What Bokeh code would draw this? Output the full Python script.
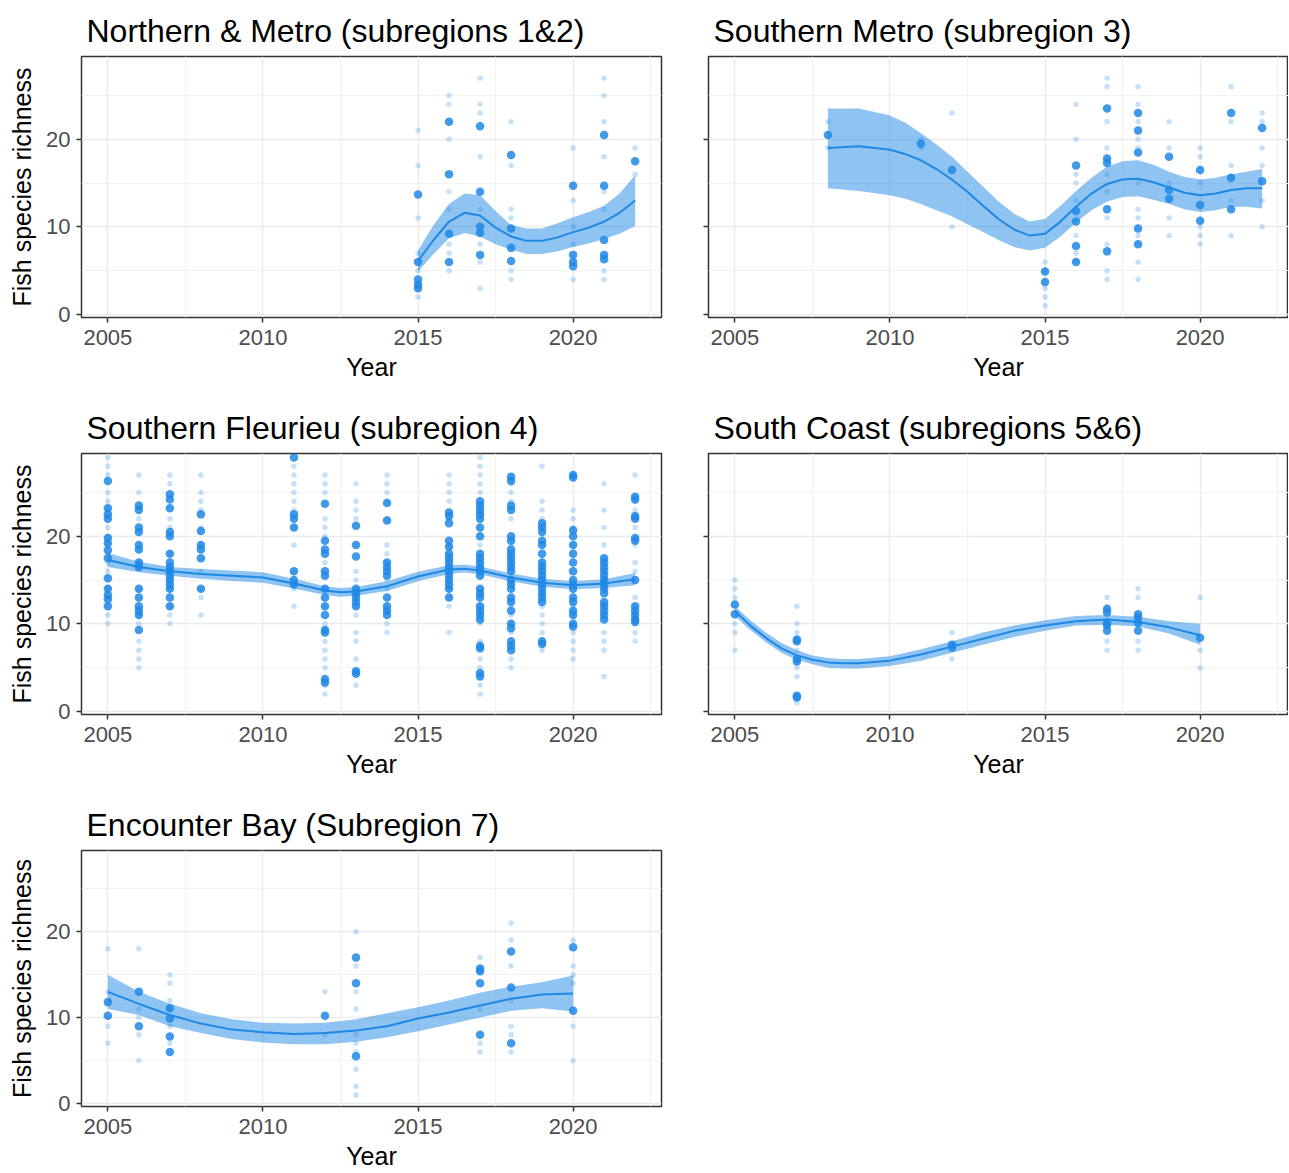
from bokeh.plotting import figure
from bokeh.layouts import column, row
from bokeh.models import FixedTicker, Range1d
from bokeh.embed import file_html
from bokeh.resources import INLINE

# ---------------- data ----------------
TITLES = ["Northern & Metro (subregions 1&2)", "Southern Metro (subregion 3)",
          "Southern Fleurieu (subregion 4)", "South Coast (subregions 5&6)",
          "Encounter Bay (Subregion 7)"]
X_TICKS = [2005, 2010, 2015, 2020]
Y_TICKS = [0, 10, 20]

# Panel 1: Northern & Metro
P1_YEARS = [2015, 2016, 2017, 2018, 2020, 2021, 2022]
P1_LIGHT = [[21, 17, 11, 7, 5, 2], [25, 24, 20, 14, 12, 8, 7, 5],
            [27, 24, 23, 18, 12, 8, 6, 3], [22, 17, 12, 11, 5, 4],
            [19, 13, 10, 8, 4], [27, 25, 22, 18, 14, 12, 5, 4], [19, 16]]
P1_DARK = [[13.7, 6.0, 4.0, 3.4, 3.0], [22.0, 16.0, 9.2, 6.0],
           [21.5, 14.0, 10.0, 9.3, 6.8], [18.2, 9.8, 7.6, 6.1],
           [14.7, 6.8, 6.0, 5.5], [20.5, 14.7, 8.5, 6.8, 6.3], [17.5]]
P1_FIT_X = [2015, 2015.5, 2016, 2016.5, 2017, 2017.5, 2018, 2018.5, 2019, 2019.5,
            2020, 2020.5, 2021, 2021.5, 2022]
P1_FIT = [6.1, 8.5, 10.6, 11.6, 11.3, 9.9, 8.9, 8.4, 8.4, 8.8, 9.4, 9.9, 10.6, 11.6, 13.0]
P1_HI = [7.3, 10.2, 12.6, 13.8, 13.6, 11.8, 10.2, 9.8, 9.8, 10.4, 11.1, 11.7, 12.4, 13.8, 15.9]
P1_LO = [4.9, 6.9, 8.7, 9.3, 8.9, 8.0, 7.4, 6.9, 6.9, 7.2, 7.7, 8.1, 8.6, 9.2, 10.1]

# Panel 2: Southern Metro
P2_YEARS = [2008, 2011, 2012, 2015, 2016, 2017, 2018, 2019, 2020, 2021, 2022]
P2_LIGHT = [[22, 19], [19, 20], [23, 10], [6, 5, 3, 2, 1],
            [24, 20, 16, 15, 13, 9, 7, 6], [27, 26, 22, 19, 16, 14, 11, 8, 5, 4],
            [26, 24, 22, 20, 19, 15, 12, 11, 9, 6, 4], [22, 19, 15, 11, 9],
            [19, 18, 15, 10, 9, 8], [26, 22, 17, 13, 9], [23, 22, 19, 17, 13, 10]]
P2_DARK = [[20.5], [19.5], [16.5], [4.9, 3.7], [17.0, 11.8, 10.6, 7.8, 6.0],
           [23.5, 17.8, 17.3, 12.0, 7.2], [23.0, 21.0, 18.5, 9.8, 8.0],
           [18.0, 14.2, 13.2], [16.5, 12.5, 10.7], [23.0, 15.6, 12.0], [21.3, 15.2]]
P2_FIT_X = [2008, 2009, 2010, 2010.5, 2011, 2011.5, 2012, 2012.5, 2013, 2013.5, 2014,
            2014.5, 2015, 2015.5, 2016, 2016.5, 2017, 2017.5, 2018, 2018.5, 2019,
            2019.5, 2020, 2020.5, 2021, 2021.5, 2022]
P2_FIT = [19.0, 19.2, 18.8, 18.3, 17.6, 16.6, 15.4, 14.0, 12.4, 10.9, 9.7, 9.0, 9.2,
          10.6, 12.3, 13.8, 14.9, 15.4, 15.5, 15.1, 14.5, 13.9, 13.6, 13.8, 14.2,
          14.4, 14.4]
P2_HI = [23.5, 23.5, 22.7, 21.9, 20.7, 19.4, 18.0, 16.3, 14.6, 12.9, 11.5, 10.6, 10.9,
         12.4, 14.1, 15.6, 16.9, 17.5, 17.6, 17.1, 16.3, 15.7, 15.4, 15.6, 16.0,
         16.3, 16.6]
P2_LO = [14.4, 14.1, 13.6, 13.2, 12.6, 11.9, 11.2, 10.3, 9.4, 8.5, 7.7, 7.3, 7.6,
         8.9, 10.5, 11.9, 12.9, 13.4, 13.5, 13.1, 12.6, 12.0, 11.7, 11.9, 12.3,
         12.3, 12.1]

# Panel 3: Southern Fleurieu
P3_YEARS = [2005, 2006, 2007, 2008, 2011, 2012, 2013, 2014, 2016, 2017, 2018, 2019,
            2020, 2021, 2022]
P3_LIGHT = [[10, 11, 12, 13, 14, 16, 17, 18, 19, 20, 21, 23, 24, 25, 27, 28, 29],
            [5, 6, 7, 8, 10, 11, 14, 17, 22, 25, 27],
            [10, 11, 12, 14, 16, 18, 21, 22, 26, 27],
            [11, 13, 14, 16, 21, 23, 24, 25, 27],
            [12, 14, 16, 19, 21, 23, 24, 25, 26, 27, 28],
            [2, 3, 5, 6, 7, 8, 10, 12, 14, 17, 20, 21, 22, 25, 26, 27],
            [3, 6, 8, 9, 11, 14, 15, 16, 22, 23, 24, 26],
            [9, 10, 14, 15, 17, 18, 19, 22, 24, 25, 26, 27],
            [9, 12, 13, 14, 19, 22, 24, 25, 26, 27],
            [2, 3, 5, 6, 8, 10, 12, 19, 25, 26, 27, 28, 29],
            [5, 6, 9, 10, 11, 12, 19, 22, 24, 25, 26],
            [7, 9, 10, 11, 12, 22, 23, 24, 28],
            [6, 7, 8, 9, 11, 12, 21, 22, 23, 27],
            [4, 7, 8, 9, 12, 19, 21, 23, 26],
            [8, 9, 10, 12, 13, 16, 17, 19, 21, 23, 24, 27]]
P3_DARK = [[26.3, 23.2, 22.5, 22.0, 19.8, 19.2, 18.4, 17.5, 15.2, 14.0, 13.3, 12.8, 12.0],
           [23.5, 23.0, 21.0, 20.5, 19.0, 18.5, 17.0, 16.5, 14.0, 13.0, 12.0, 11.5, 11.0, 9.3],
           [24.8, 24.2, 23.2, 20.5, 20.0, 18.0, 17.0, 16.5, 16.0, 15.5, 15.0, 14.5, 14.0, 13.0, 12.0],
           [22.5, 20.6, 19.0, 18.5, 17.5, 14.0],
           [29.0, 22.5, 22.0, 21.0, 16.0, 15.0, 14.5],
           [23.7, 19.5, 18.5, 18.0, 16.0, 15.5, 14.0, 13.0, 12.0, 11.0, 9.3, 9.0, 3.7, 3.3],
           [21.2, 19.0, 17.7, 14.0, 13.5, 13.0, 12.5, 12.0, 4.6, 4.3],
           [23.8, 21.8, 17.0, 16.5, 16.0, 15.5, 13.0, 12.0, 11.5, 11.0],
           [22.7, 22.3, 21.5, 19.5, 18.8, 18.0, 17.5, 17.0, 16.5, 16.0, 15.5, 15.0, 14.5, 14.0, 13.0],
           [24.0, 23.5, 23.0, 22.5, 22.0, 21.0, 20.0, 18.0, 17.5, 17.0, 16.5, 16.0, 15.5, 14.0,
            13.5, 13.0, 12.0, 11.5, 11.0, 10.5, 7.5, 7.2, 4.4, 4.0],
           [26.8, 26.3, 23.5, 23.0, 20.0, 19.5, 18.5, 18.0, 17.5, 17.0, 16.5, 16.0, 15.0, 14.5,
            14.0, 13.0, 12.5, 11.5, 10.0, 9.5, 8.0, 7.5, 7.0],
           [21.5, 21.0, 20.5, 19.5, 19.0, 18.0, 17.0, 16.5, 16.0, 15.5, 15.0, 14.5, 14.0, 13.5,
            13.0, 12.5, 8.0, 7.7],
           [27.0, 26.7, 20.7, 20.0, 19.0, 18.0, 17.0, 16.0, 15.0, 14.5, 14.0, 13.0, 12.5, 11.5,
            11.0, 10.0, 9.7],
           [17.5, 17.0, 16.5, 16.0, 15.5, 15.0, 14.5, 14.0, 13.5, 12.5, 12.0, 11.5, 11.0, 10.5],
           [24.5, 24.2, 22.3, 22.0, 19.8, 19.5, 15.0, 12.0, 11.5, 11.0, 10.5, 10.2]]
P3_FIT_X = [2005, 2006, 2007, 2008, 2009, 2010, 2011, 2012, 2012.5, 2013, 2014, 2015,
            2016, 2016.5, 2017, 2018, 2019, 2020, 2021, 2022]
P3_FIT = [17.3, 16.5, 16.0, 15.7, 15.5, 15.3, 14.6, 13.8, 13.6, 13.7, 14.3, 15.4,
          16.2, 16.3, 16.1, 15.3, 14.7, 14.4, 14.6, 15.1]
P3_HI = [18.1, 17.1, 16.5, 16.25, 16.1, 15.9, 15.15, 14.3, 14.1, 14.2, 14.85, 15.95,
         16.7, 16.75, 16.55, 15.75, 15.15, 14.85, 15.1, 15.8]
P3_LO = [16.5, 15.9, 15.5, 15.15, 14.9, 14.7, 14.05, 13.3, 13.1, 13.2, 13.75, 14.85,
         15.7, 15.85, 15.65, 14.85, 14.25, 13.95, 14.1, 14.4]

# Panel 4: South Coast
P4_YEARS = [2005, 2007, 2012, 2017, 2018, 2020]
P4_LIGHT = [[15, 14, 13, 10, 9, 7], [12, 10, 9, 7, 5, 4, 1], [9, 6],
            [13, 12, 8, 7], [14, 13, 8, 7], [13, 7, 5]]
P4_DARK = [[12.2, 11.1], [8.2, 8.0, 6.0, 5.7, 1.8, 1.6], [7.6, 7.3],
           [11.7, 11.3, 10.1, 9.8, 9.2], [11.1, 10.7, 10.1, 9.2], [8.4]]
P4_FIT_X = [2005, 2005.5, 2006, 2006.5, 2007, 2007.5, 2008, 2008.5, 2009, 2010, 2011,
            2012, 2013, 2014, 2015, 2016, 2017, 2018, 2019, 2020]
P4_FIT = [11.5, 9.8, 8.4, 7.2, 6.4, 5.9, 5.6, 5.5, 5.5, 5.8, 6.5, 7.4, 8.3, 9.2, 9.8,
          10.3, 10.5, 10.2, 9.6, 8.7]
P4_HI = [12.0, 10.4, 9.0, 7.8, 7.0, 6.4, 6.1, 6.0, 6.0, 6.3, 7.1, 8.0, 9.0, 9.8, 10.4,
         10.9, 11.0, 10.8, 10.3, 10.0]
P4_LO = [10.9, 9.3, 7.9, 6.7, 5.9, 5.4, 5.0, 4.9, 4.9, 5.2, 5.8, 6.7, 7.6, 8.5, 9.2,
         9.8, 9.9, 9.7, 8.9, 7.6]

# Panel 5: Encounter Bay
P5_YEARS = [2005, 2006, 2007, 2012, 2013, 2017, 2018, 2020]
P5_LIGHT = [[18, 13, 9, 7], [18, 11, 10, 8, 5], [15, 14, 12, 11, 9, 7], [13, 8],
            [20, 16, 13, 11, 8, 7, 6, 4, 2, 1], [17, 11, 7, 6],
            [21, 19, 16, 12, 9, 8, 6], [19, 16, 15, 14, 9, 5]]
P5_DARK = [[11.8, 10.2], [13.0, 9.0], [11.1, 9.9, 7.8, 6.0], [10.2],
           [17.0, 14.0, 5.5], [15.7, 15.4, 14.0, 8.0], [17.7, 13.5, 7.0], [18.2, 10.8]]
P5_FIT_X = [2005, 2006, 2007, 2008, 2009, 2010, 2011, 2012, 2013, 2014, 2015, 2016,
            2017, 2018, 2019, 2020]
P5_FIT = [13.0, 11.6, 10.3, 9.3, 8.6, 8.3, 8.1, 8.2, 8.5, 9.0, 9.9, 10.6, 11.4, 12.2,
          12.7, 12.8]
P5_HI = [15.0, 13.0, 11.6, 10.5, 9.8, 9.4, 9.3, 9.4, 9.8, 10.5, 11.2, 12.0, 12.9, 13.6,
         14.1, 14.9]
P5_LO = [11.0, 10.3, 9.0, 8.2, 7.5, 7.1, 6.9, 6.9, 7.2, 7.7, 8.4, 9.2, 10.0, 10.8,
         11.1, 10.7]

# ---------------- styling ----------------
BLUE = "#1E88E5"
FONT = "Liberation Sans"
X_MINOR = [2002.5, 2007.5, 2012.5, 2017.5, 2022.5]
Y_MINOR = [5, 15, 25]


def flatten(years, groups):
    xs, ys = [], []
    for yr, vals in zip(years, groups):
        for v in vals:
            xs.append(yr)
            ys.append(v)
    return xs, ys


def panel(title, years, light, dark, fx, fy, flo, fhi, left_col, height, bottom):
    if left_col:
        width, lb, rb = 681, 81, 20
    else:
        width, lb, rb = 607, 27, 0
    p = figure(width=width, height=height, output_backend="svg", toolbar_location=None,
               x_range=Range1d(2004.15, 2022.85), y_range=Range1d(-0.35, 29.45),
               min_border_left=lb, min_border_right=rb, min_border_top=56,
               min_border_bottom=bottom, background_fill_color="white",
               border_fill_color="white")
    p.title.text = title
    p.title.text_font = FONT
    p.title.text_font_size = "32px"
    p.title.text_font_style = "normal"
    p.title.text_color = "black"
    p.title.offset = 5
    p.title.standoff = 16

    p.outline_line_color = "#333333"
    p.outline_line_width = 1.5

    p.xaxis.ticker = FixedTicker(ticks=X_TICKS, minor_ticks=X_MINOR)
    p.yaxis.ticker = FixedTicker(ticks=Y_TICKS, minor_ticks=Y_MINOR)
    for ax in (p.xaxis, p.yaxis):
        ax.axis_line_color = None
        ax.major_tick_line_color = "#333333"
        ax.major_tick_line_width = 1.5
        ax.major_tick_out = 5
        ax.major_tick_in = 0
        ax.minor_tick_out = 0
        ax.minor_tick_in = 0
        ax.major_label_text_font = FONT
        ax.major_label_text_font_size = "22px"
        ax.major_label_text_color = "#4D4D4D"
        ax.axis_label_text_font = FONT
        ax.axis_label_text_font_size = "25px"
        ax.axis_label_text_font_style = "normal"
        ax.axis_label_text_color = "black"
    p.xaxis.major_label_standoff = 7
    p.xaxis.axis_label = "Year"
    p.xaxis.axis_label_standoff = 5
    p.yaxis.major_label_standoff = 6
    if left_col:
        p.yaxis.axis_label = "Fish species richness"
        p.yaxis.axis_label_standoff = 7
    else:
        p.yaxis.major_label_overrides = {0: "", 10: "", 20: ""}

    for g in (p.xgrid, p.ygrid):
        g.grid_line_color = "#EBEBEB"
        g.grid_line_width = 1.5
        g.minor_grid_line_color = "#F2F2F2"
        g.minor_grid_line_width = 1.2

    lx, ly = flatten(years, light)
    dx, dy = flatten(years, dark)
    p.scatter(lx, ly, size=5.5, color=BLUE, alpha=0.25, line_color=None)
    p.scatter(dx, dy, size=8.5, color=BLUE, alpha=0.85, line_color=None)
    p.varea(x=fx, y1=flo, y2=fhi, fill_color=BLUE, fill_alpha=0.5)
    p.line(fx, fy, line_color=BLUE, line_width=2)
    return p


p1 = panel(TITLES[0], P1_YEARS, P1_LIGHT, P1_DARK, P1_FIT_X, P1_FIT, P1_LO, P1_HI, True, 397, 80)
p2 = panel(TITLES[1], P2_YEARS, P2_LIGHT, P2_DARK, P2_FIT_X, P2_FIT, P2_LO, P2_HI, False, 397, 80)
p3 = panel(TITLES[2], P3_YEARS, P3_LIGHT, P3_DARK, P3_FIT_X, P3_FIT, P3_LO, P3_HI, True, 397, 80)
p4 = panel(TITLES[3], P4_YEARS, P4_LIGHT, P4_DARK, P4_FIT_X, P4_FIT, P4_LO, P4_HI, False, 397, 80)
p5 = panel(TITLES[4], P5_YEARS, P5_LIGHT, P5_DARK, P5_FIT_X, P5_FIT, P5_LO, P5_HI, True, 378, 60)

layout = column(row(p1, p2), row(p3, p4), row(p5))
open("out.html", "w").write(file_html(layout, INLINE))
